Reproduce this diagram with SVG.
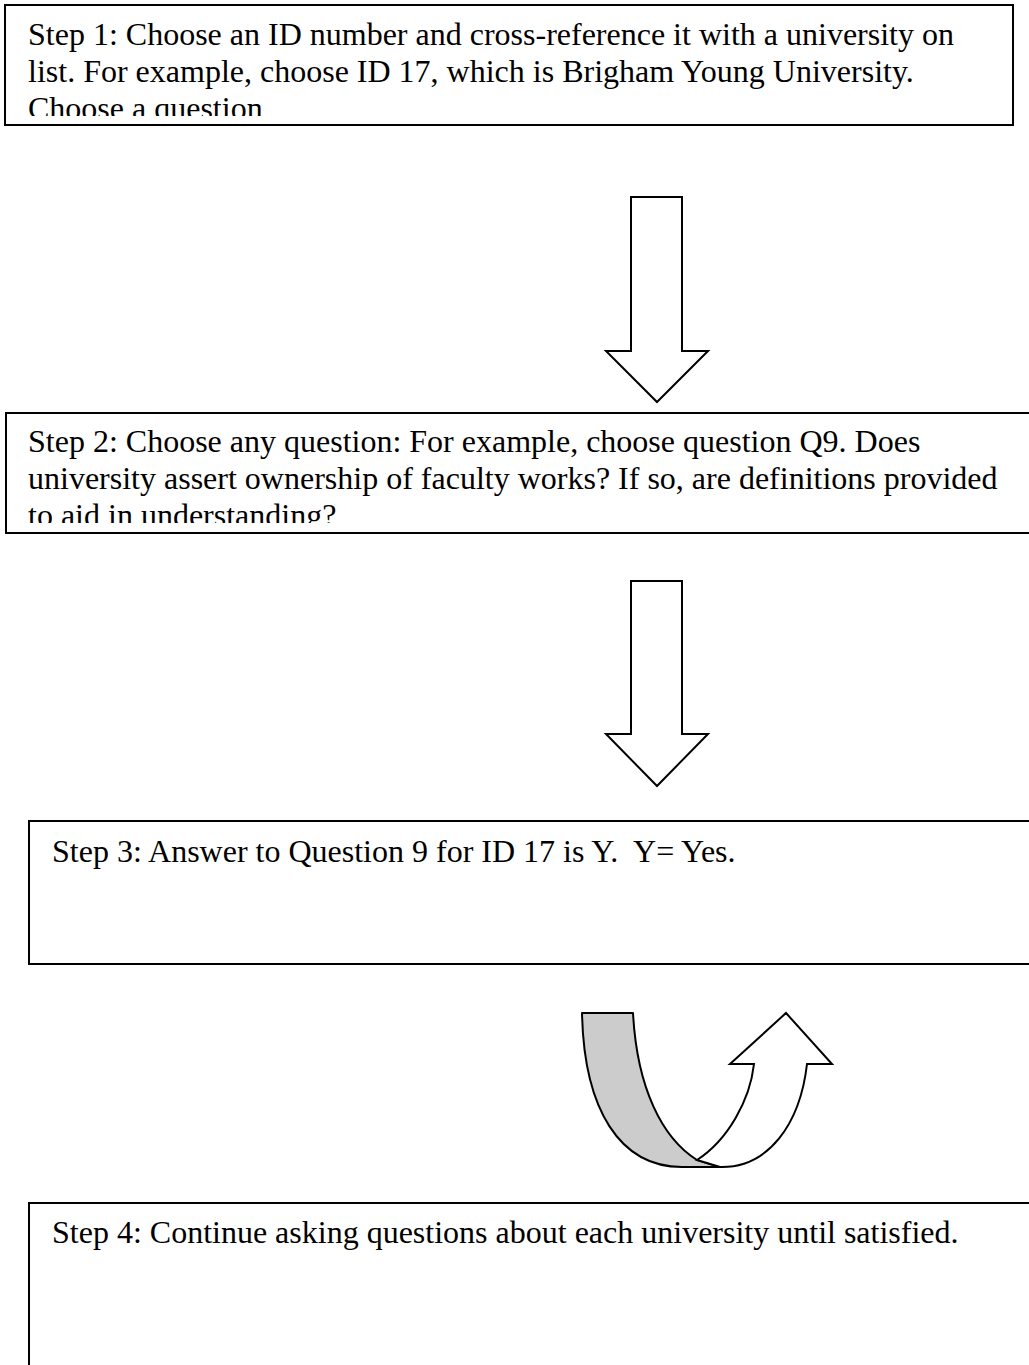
<svg xmlns="http://www.w3.org/2000/svg" width="1029" height="1365" viewBox="0 0 1029 1365">
  <style>
    .box { fill: #fff; stroke: #000; stroke-width: 2; }
    .txt { font-family: "Liberation Serif", "Times New Roman", serif; font-size: 32px; fill: #000; white-space: pre; }
    .arrow { fill: #fff; stroke: #000; stroke-width: 2; stroke-linejoin: miter; }
    .back { fill: #cccccc; stroke: #000; stroke-width: 2; stroke-linejoin: round; }
  </style>
  <defs>
    <clipPath id="clip1"><rect x="6" y="6" width="1006" height="110"/></clipPath>
    <clipPath id="clip2"><rect x="7" y="414" width="1030" height="109"/></clipPath>
  </defs>
  <rect width="1029" height="1365" fill="#fff"/>

  <g id="step1">
    <rect class="box" x="5" y="5" width="1008" height="120"/>
    <g clip-path="url(#clip1)">
      <text class="txt" x="28" y="45">Step 1: Choose an ID number and cross-reference it with a university on</text>
      <text class="txt" x="28" y="82">list. For example, choose ID 17, which is Brigham Young University.</text>
      <text class="txt" x="28" y="119">Choose a question</text>
    </g>
  </g>

  <g id="step2">
    <rect class="box" x="6" y="413" width="1040" height="120"/>
    <g clip-path="url(#clip2)">
      <text class="txt" x="28" y="452">Step 2: Choose any question: For example, choose question Q9. Does</text>
      <text class="txt" x="28" y="489">university assert ownership of faculty works? If so, are definitions provided</text>
      <text class="txt" x="28" y="526">to aid in understanding?</text>
    </g>
  </g>

  <g id="step3">
    <rect class="box" x="29" y="821" width="1020" height="143"/>
    <text class="txt" x="52" y="862">Step 3: Answer to Question 9 for ID 17 is Y.  Y= Yes.</text>
  </g>

  <g id="step4">
    <rect class="box" x="29" y="1203" width="1020" height="200"/>
    <text class="txt" x="52" y="1243">Step 4: Continue asking questions about each university until satisfied.</text>
  </g>

  <g id="connectors">
    <path class="arrow" d="M631,197 L682,197 L682,351 L708,351 L657,402 L606,351 L631,351 Z"/>
    <path class="arrow" d="M631,581 L682,581 L682,734 L708,734 L657,786 L606,734 L631,734 Z"/>
    <g id="uturn">
      <path class="back" d="M582,1013 L633,1013 C637,1088 662,1138 697,1160 L720,1167 L682,1167 C620,1167 584,1110 582,1013 Z"/>
      <path class="arrow" d="M697,1160 C728,1140 750,1100 754,1064 L730,1064 L786,1013 L832,1064 L807,1064 C800,1125 768,1167 722,1167 L720,1167 Z"/>
    </g>
  </g>
</svg>
